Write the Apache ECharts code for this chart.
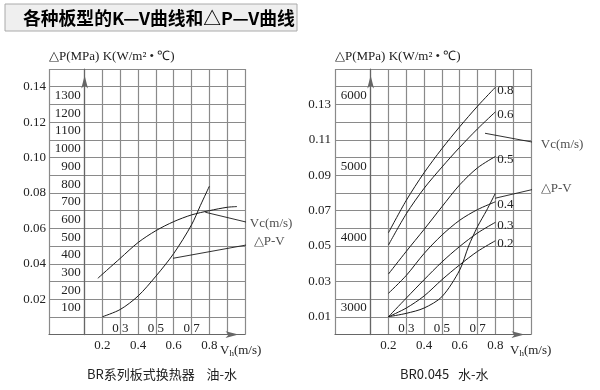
<!DOCTYPE html>
<html><head><meta charset="utf-8">
<script src="https://cdn.jsdelivr.net/npm/echarts@6/dist/echarts.min.js"></script>
<style>html,body{margin:0;padding:0;background:#fff}#c{width:600px;height:390px}</style>
</head><body><div id="c"></div>
<script>
// ---------------- data ----------------
const titleText = '各种板型的K—V曲线和△P—V曲线';
const captionLeft = 'BR系列板式换热器    油-水';
const captionRight = 'BR0.045   水-水';
const axisTitle = '△P(MPa) K(W/m² • ℃)';

const vhLabels = [0.2, 0.4, 0.6, 0.8];
const vhInnerLabels = [0.3, 0.5, 0.7];
const gridLineX = [-0.1, 0.1, 0.2, 0.3, 0.4, 0.5, 0.6, 0.7, 0.8, 0.9, 1.0];
const gridLineY = [0, 0.01, 0.02, 0.03, 0.04, 0.05, 0.06, 0.07, 0.08, 0.09, 0.10, 0.11, 0.12, 0.13, 0.14, 0.15];
const leftDpTicks = [0.02, 0.04, 0.06, 0.08, 0.10, 0.12, 0.14];
const leftKTicks = [100, 200, 300, 400, 500, 600, 700, 800, 900, 1000, 1100, 1200, 1300];
const rightDpTicks = [0.01, 0.03, 0.05, 0.07, 0.09, 0.11, 0.13];
const rightKTicks = [3000, 4000, 5000, 6000];

// left panel (oil-water)
const leftKVh = [0.174, 0.3, 0.4, 0.5, 0.6, 0.7, 0.8, 0.9, 0.955];
const leftK   = [268, 381, 470, 537, 588, 626, 650, 669, 673];
const leftDpVh = [0.2, 0.3, 0.4, 0.5, 0.6, 0.7, 0.75, 0.8];
const leftDp   = [0.0101, 0.0142, 0.0218, 0.0330, 0.0458, 0.0620, 0.0730, 0.0838];

// right panel (water-water), K curves per Vc
const rightVh = [0.2, 0.3, 0.4, 0.5, 0.6, 0.7, 0.8];
const rightVcNames = ['0.8', '0.6', '0.5', '0.4', '0.3', '0.2'];
const rightK08 = [4063, 4520, 4910, 5250, 5560, 5850, 6117];
const rightK06 = [3890, 4330, 4690, 4990, 5270, 5530, 5770];
const rightK05 = [3480, 3800, 4110, 4430, 4740, 4980, 5140];
const rightK04 = [3208, 3460, 3770, 4030, 4240, 4390, 4500];
const rightK03 = [2877, 3140, 3400, 3650, 3870, 4060, 4210];
const rightK02 = [2877, 3000, 3170, 3400, 3610, 3800, 3950];
const rightDpVh = [0.2, 0.3, 0.4, 0.5, 0.6, 0.65, 0.7, 0.75, 0.8];
const rightDp   = [0.0101, 0.012, 0.015, 0.0214, 0.0365, 0.050, 0.061, 0.070, 0.0798];

// annotation leaders [Vh, ΔP]
const leftVcLeader  = [[0.777, 0.0691], [1.013, 0.0634]];
const leftDpLeader  = [[0.596, 0.0431], [1.007, 0.0506]];
const rightVcLeader = [[0.742, 0.1137], [1.041, 0.1081]];
const rightDpLeader = [[0.798, 0.0770], [1.041, 0.0827]];
const vcText = 'Vc(m/s)';
const dpText = '△P-V';

// ---------------- layout / style ----------------
const SERIF = 'Liberation Serif';
const TXT = '#222';
const GRID_TOP = 69, GRID_H = 265.6, GRID_W = 196;
const X_MIN = -0.1, X_MAX = 1.0;
const kAxisOffset = -(GRID_W - (0.1 - X_MIN) / (X_MAX - X_MIN) * GRID_W);
const gridLine = {color: '#8a8a8a', width: 1.2};
const axisArrow = {show: true, onZero: false, symbol: ['none', 'arrow'], symbolSize: [5, 13], symbolOffset: [0, -6.5], lineStyle: {color: '#666', width: 1.2}};
const curveStyle = {color: '#1a1a1a', width: 1};
const zip = (a, b) => a.map((v, i) => [v, b[i]]);
const lbl = {fontFamily: SERIF, fontSize: 13, color: TXT};

function xAxes(g) {
  return [{
    gridIndex: g, type: 'value', min: X_MIN, max: X_MAX, position: 'bottom',
    axisLine: axisArrow,
    axisTick: {show: false, customValues: gridLineX},
    splitLine: {show: true, lineStyle: gridLine},
    axisLabel: Object.assign({customValues: vhLabels, formatter: v => v.toFixed(1), margin: 11, verticalAlign: 'middle'}, lbl),
    name: '{v|V}{s|h}{v|(m/s)}', nameLocation: 'end', nameGap: g === 0 ? -25 : -21, nameMoveOverlap: false,
    nameTextStyle: {align: 'left', verticalAlign: 'middle', padding: [32, 0, 0, 0],
      rich: {v: {fontFamily: SERIF, fontSize: 13, color: TXT, lineHeight: 16},
             s: {fontFamily: SERIF, fontSize: 9, color: TXT, lineHeight: 16, verticalAlign: 'bottom', padding: [5, 0, 0, 0]}}}
  }, {
    gridIndex: g, type: 'value', min: X_MIN, max: X_MAX, position: 'top', offset: -GRID_H,
    axisLine: {show: false, onZero: false}, axisTick: {show: false}, splitLine: {show: false},
    axisLabel: Object.assign({customValues: vhInnerLabels, formatter: v => v.toFixed(1).replace('.', ' '), margin: 6, verticalAlign: 'middle'}, lbl)
  }];
}
function yAxes(g, dpTicks, kMin, kMax, kTicks) {
  return [{
    gridIndex: g, type: 'value', min: 0, max: 0.15, position: 'left',
    axisLine: {show: false, onZero: false},
    axisTick: {show: false, customValues: gridLineY},
    splitLine: {show: true, lineStyle: gridLine},
    axisLabel: Object.assign({customValues: dpTicks, formatter: v => v.toFixed(2), margin: g === 0 ? 3 : 4}, lbl),
    name: axisTitle, nameLocation: 'end', nameGap: 12, nameMoveOverlap: false,
    nameTextStyle: Object.assign({align: 'left', verticalAlign: 'middle'}, lbl)
  }, {
    gridIndex: g, type: 'value', min: kMin, max: kMax, position: 'right', offset: kAxisOffset,
    axisLine: axisArrow, axisTick: {show: false}, splitLine: {show: false},
    axisLabel: Object.assign({inside: true, customValues: kTicks, margin: 4, formatter: v => String(v)}, lbl)
  }];
}
function curve(xi, yi, data, extra) {
  return Object.assign({type: 'line', xAxisIndex: xi, yAxisIndex: yi, data: data, smooth: 0.3,
    symbol: 'none', showSymbol: false, silent: true, lineStyle: curveStyle}, extra || {});
}
function leader(xi, yi, pts, text, off) {
  return [curve(xi, yi, pts, {smooth: false, clip: false, lineStyle: {color: '#1a1a1a', width: 0.9}}),
    {type: 'scatter', xAxisIndex: xi, yAxisIndex: yi, clip: false, silent: true, symbolSize: 1,
     itemStyle: {color: 'rgba(0,0,0,0)'},
     data: [{value: pts[1], label: Object.assign({show: true, position: 'right', distance: off[0], offset: [0, off[1]], formatter: text}, lbl)}]}];
}

const rightSets = [rightK08, rightK06, rightK05, rightK04, rightK03, rightK02];
const series = [
  curve(0, 1, zip(leftKVh, leftK)),
  curve(0, 0, zip(leftDpVh, leftDp)),
  ...leader(0, 0, leftVcLeader, vcText, [2, 1]),
  ...leader(0, 0, leftDpLeader, dpText, [7, -3.5]),
  ...rightSets.map((arr, i) => curve(2, 3, zip(rightVh, arr), {
    endLabel: Object.assign({show: true, formatter: rightVcNames[i], distance: 2, offset: [0, 3]}, lbl)})),
  curve(2, 2, zip(rightDpVh, rightDp)),
  ...leader(2, 2, rightVcLeader, vcText, [2, 1.5]),
  ...leader(2, 2, rightDpLeader, dpText, [2, 0])
];

const chart = echarts.init(document.getElementById('c'), null, {renderer: 'canvas'});
chart.setOption({
  animation: false,
  backgroundColor: '#fff',
  grid: [
    {left: 49, top: GRID_TOP, width: GRID_W, height: GRID_H, outerBoundsMode: 'none'},
    {left: 335, top: GRID_TOP, width: GRID_W, height: GRID_H, outerBoundsMode: 'none'}
  ],
  xAxis: [...xAxes(0), ...xAxes(1)],
  yAxis: [...yAxes(0, leftDpTicks, -50, 1450, leftKTicks), ...yAxes(1, rightDpTicks, 2625, 6375, rightKTicks)],
  series: series,
  graphic: [
    {type: 'rect', shape: {x: 5, y: 4, width: 292, height: 27}, style: {fill: '#efefef', stroke: '#aaaaaa', lineWidth: 1}},
    {type: 'text', x: 23, y: 18, style: {text: titleText, font: 'bold 17.8px "Noto Sans CJK SC"', fill: '#000', verticalAlign: 'middle'}},
    {type: 'text', x: 87, y: 374, style: {text: captionLeft, font: '13px "Noto Sans CJK SC"', fill: TXT, verticalAlign: 'middle'}},
    {type: 'text', x: 400, y: 374, style: {text: captionRight, font: '13px "Noto Sans CJK SC"', fill: TXT, verticalAlign: 'middle'}}
  ]
});
</script></body></html>
